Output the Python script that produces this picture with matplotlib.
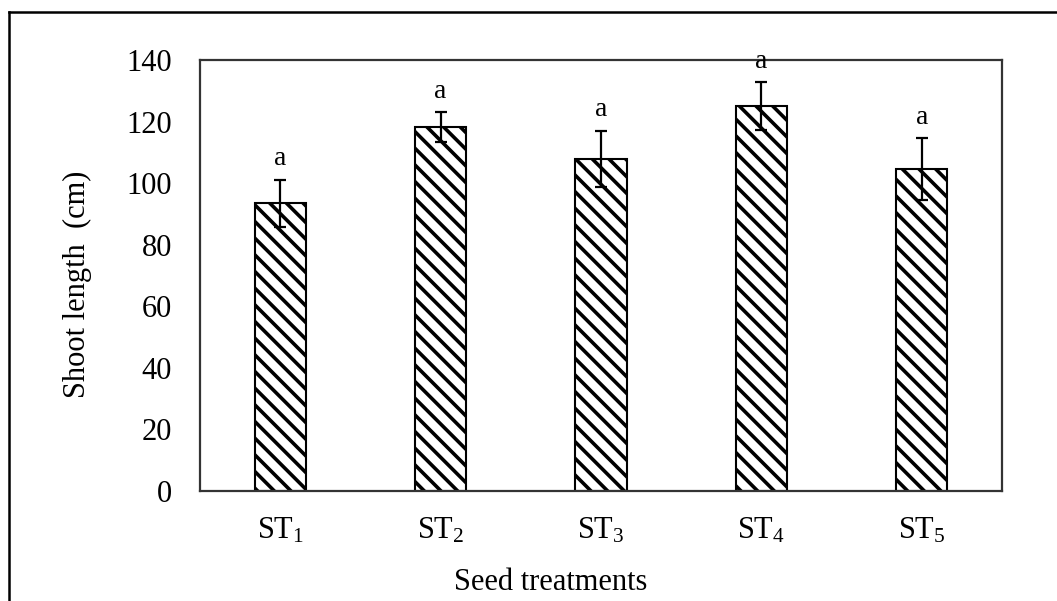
import numpy as np
import matplotlib
matplotlib.use('Agg')
import matplotlib.pyplot as plt
from matplotlib.lines import Line2D

plt.rcParams['font.family'] = ['Liberation Serif', 'DejaVu Serif']
plt.rcParams['mathtext.fontset'] = 'custom'
plt.rcParams['mathtext.rm'] = 'Liberation Serif'
plt.rcParams['mathtext.default'] = 'rm'
plt.rcParams['hatch.linewidth'] = 2.6

# data
treatments = ['ST$_1$', 'ST$_2$', 'ST$_3$', 'ST$_4$', 'ST$_5$']
shoot_length = [93.5, 118.2, 107.9, 125.1, 104.5]
shoot_err = [7.6, 4.8, 9.1, 7.7, 10.1]
letters = ['a', 'a', 'a', 'a', 'a']
y_ticks = [0, 20, 40, 60, 80, 100, 120, 140]

W, H = 1057, 601
fig = plt.figure(figsize=(W / 100, H / 100), dpi=100)
ax = fig.add_axes([200 / W, 1 - 491 / H, 802 / W, 431 / H])

x = np.arange(len(treatments))
ax.bar(x, shoot_length, width=0.32, color='white', edgecolor='black',
       linewidth=1.5, hatch='\\\\', zorder=2)
ax.errorbar(x, shoot_length, yerr=shoot_err, fmt='none', ecolor='black',
            elinewidth=1.6, capsize=4.5, capthick=1.6, zorder=3)

for xi, m, e, lab in zip(x, shoot_length, shoot_err, letters):
    ax.annotate(lab, (xi, m + e), xytext=(0, 6), textcoords='offset points',
                ha='center', va='bottom', fontsize=20)

ax.set_xlim(-0.5, len(treatments) - 0.5)
ax.set_ylim(0, 140)
ax.set_yticks(y_ticks)
ax.set_xticks(x)
ax.set_xticklabels(treatments)
ax.tick_params(axis='both', length=0, labelsize=22)
ax.tick_params(axis='y', pad=20)
ax.tick_params(axis='x', pad=18)

for sp in ax.spines.values():
    sp.set_color('#333333')
    sp.set_linewidth(1.6)

ax.set_ylabel('Shoot length  (cm)', fontsize=22)
ax.yaxis.set_label_coords(-(200 - 77) / 802, 0.48)
ax.yaxis.label.set_va('center')
ax.set_xlabel('Seed treatments', fontsize=22)
ax.xaxis.set_label_coords((551 - 200) / 802, -(582 - 491) / 431)
ax.xaxis.label.set_va('center')

# outer frame (only top and left edges visible in the reference)
fig.add_artist(Line2D([9 / W, 9 / W], [-0.1, 1 - 12 / H], color='black', lw=1.8,
                      transform=fig.transFigure))
fig.add_artist(Line2D([9 / W, 1.1], [1 - 12 / H, 1 - 12 / H], color='black', lw=1.8,
                      transform=fig.transFigure))

fig.savefig('out.png', dpi=100)
